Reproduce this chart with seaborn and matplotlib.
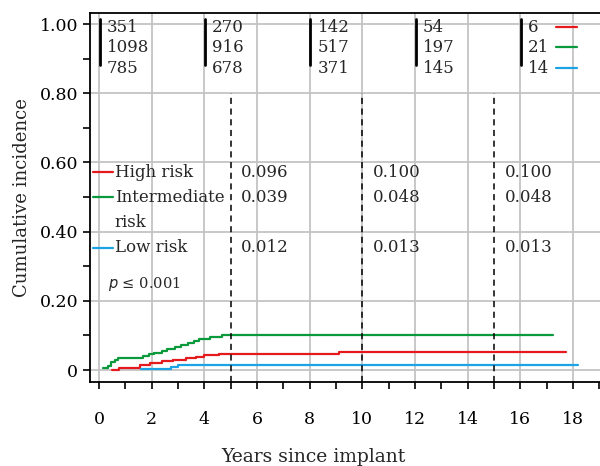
import numpy as np
import pandas as pd
import matplotlib
matplotlib.use("Agg")
import matplotlib.pyplot as plt
from matplotlib.ticker import MultipleLocator, FuncFormatter
import seaborn as sns

# --- data ---
groups = ["High risk", "Intermediate risk", "Low risk"]
colors = ["#e41a1c", "#0a9a3c", "#1ca3e3"]

# step curves (time in years, cumulative incidence)
high_t = [0.48, 0.78, 1.56, 1.95, 2.4, 2.8, 3.3, 3.7, 4.0, 4.55, 9.1, 17.73]
high_y = [0.0, 0.007, 0.015, 0.02, 0.025, 0.03, 0.034, 0.038, 0.042, 0.046, 0.051, 0.051]
inter_t = [0.15, 0.33, 0.45, 0.6, 0.74, 1.68, 1.9, 2.1, 2.4, 2.6, 2.9, 3.1, 3.4, 3.6, 3.8, 4.2, 4.66, 17.23]
inter_y = [0.006, 0.012, 0.022, 0.03, 0.036, 0.04, 0.045, 0.05, 0.055, 0.06, 0.066, 0.072, 0.078, 0.083, 0.09, 0.094, 0.101, 0.101]
low_t = [1.6, 2.72, 3.0, 18.18]
low_y = [0.004, 0.01, 0.014, 0.014]

# numbers at risk
risk_times = [0, 4, 8, 12, 16]
at_risk_high = [351, 270, 142, 54, 6]
at_risk_inter = [1098, 916, 517, 197, 21]
at_risk_low = [785, 678, 371, 145, 14]

# cumulative incidence estimates at 5, 10, 15 years
est_times = [5, 10, 15]
est_high = ["0.096", "0.100", "0.100"]
est_inter = ["0.039", "0.048", "0.048"]
est_low = ["0.012", "0.013", "0.013"]

df = pd.concat([
    pd.DataFrame({"t": high_t, "ci": high_y, "grp": groups[0]}),
    pd.DataFrame({"t": inter_t, "ci": inter_y, "grp": groups[1]}),
    pd.DataFrame({"t": low_t, "ci": low_y, "grp": groups[2]}),
])

sns.set_style("ticks")
plt.rcParams["font.family"] = ["DejaVu Serif"]
fs = 12

fig = plt.figure(figsize=(6, 4.66), dpi=100)
ax = fig.add_axes([0.15, 0.18, 0.85, 0.792])

sns.lineplot(data=df, x="t", y="ci", hue="grp", palette=colors, hue_order=groups,
             drawstyle="steps-post", estimator=None, legend=False, lw=1.6, ax=ax)

ax.set_xlim(-0.34, 19.03)
ax.set_ylim(-0.035, 1.032)
ax.xaxis.set_major_locator(MultipleLocator(2))
ax.xaxis.set_minor_locator(MultipleLocator(1))
ax.yaxis.set_major_locator(MultipleLocator(0.2))
ax.yaxis.set_minor_locator(MultipleLocator(0.1))
ax.yaxis.set_major_formatter(FuncFormatter(lambda v, p: "0" if abs(v) < 1e-9 else f"{v:.2f}"))
ax.grid(True, which="major", color="#c4c4c4", lw=1.3, zorder=0)
ax.set_axisbelow(True)
ax.tick_params(which="both", direction="out", length=5, width=1.2, labelsize=12.5, colors="black")
ax.tick_params(axis="x", pad=16)
for s in ["left", "top", "bottom"]:
    ax.spines[s].set_linewidth(1.3)
    ax.spines[s].set_color("black")
ax.spines["right"].set_visible(False)
ax.set_xlabel("")
ax.set_ylabel("Cumulative incidence", fontsize=13, labelpad=6)
fig.text(0.522, 0.02, "Years since implant", fontsize=13.5, ha="center", va="center")

# dashed markers at landmark times
for t in est_times:
    ax.plot([t, t], [-0.035, 0.80], ls=(0, (4, 3)), color="black", lw=1.1, zorder=3)

# numbers-at-risk table
rows_y = [0.991, 0.933, 0.873]
for i, t in enumerate(risk_times):
    ax.plot([t + 0.03, t + 0.03], [0.881, 1.014], color="black", lw=2, zorder=3)
    for yv, vals in zip(rows_y, [at_risk_high, at_risk_inter, at_risk_low]):
        ax.text(t + 0.3, yv, str(vals[i]), fontsize=fs, va="center", ha="left")
for yv, c in zip(rows_y, colors):
    ax.plot([17.36, 18.15], [yv, yv], color=c, lw=1.6)

# legend
leg_y = [0.572, 0.500, 0.353]
leg_txt = ["High risk", "Intermediate", "Low risk"]
for yv, c, txt in zip(leg_y, colors, leg_txt):
    ax.plot([-0.23, 0.53], [yv, yv], color=c, lw=1.6, clip_on=False)
    ax.text(0.6, yv, txt, fontsize=fs, va="center", ha="left")
ax.text(0.6, 0.427, "risk", fontsize=fs, va="center", ha="left")
ax.annotate(r"$\mathit{p}$ ≤ 0.001", (0.35, 0.248), fontsize=10.5, va="center", ha="left")

# estimates at 5, 10, 15 years
for i, t in enumerate(est_times):
    for yv, vals in zip([leg_y[0], leg_y[1], leg_y[2]], [est_high, est_inter, est_low]):
        ax.text(t + 0.4, yv, vals[i], fontsize=fs, va="center", ha="left")

fig.savefig("out.png", dpi=100)
